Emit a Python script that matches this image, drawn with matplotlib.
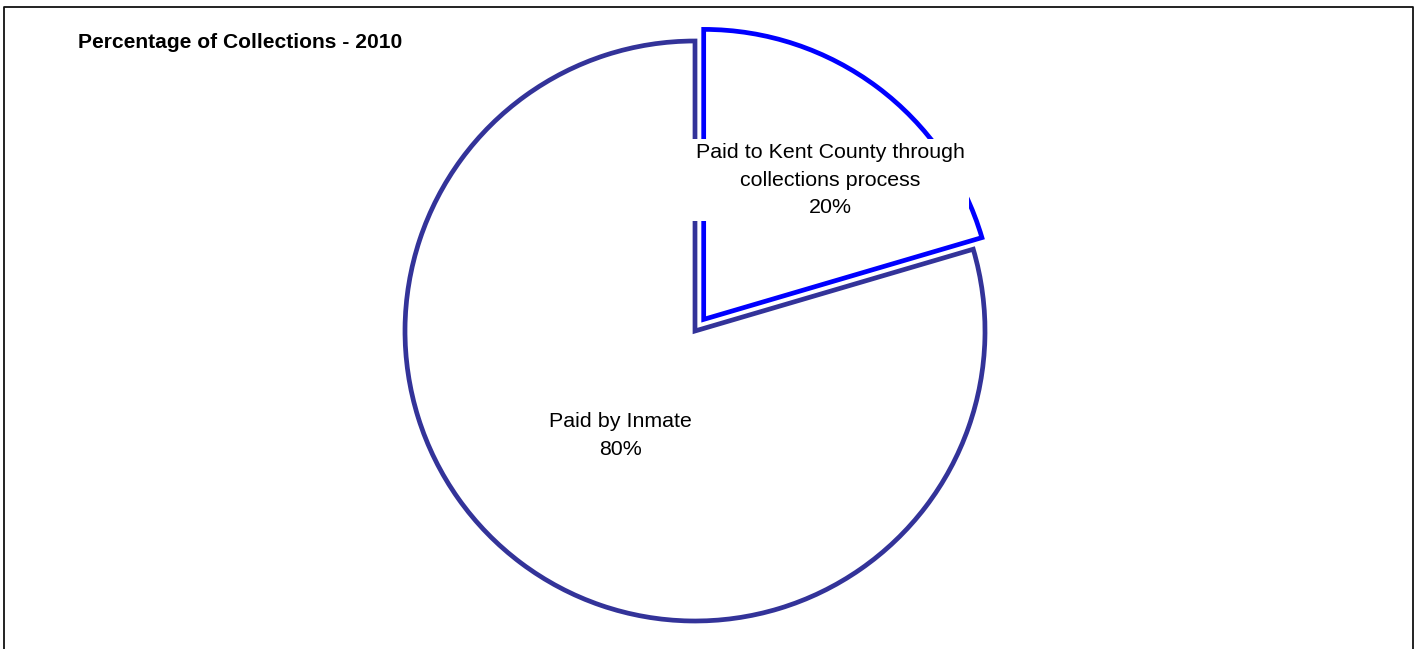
import matplotlib
matplotlib.use("Agg")
import matplotlib.pyplot as plt
from matplotlib.lines import Line2D
import numpy as np

plt.rcParams['font.family'] = ['Liberation Sans', 'DejaVu Sans']

title = "Percentage of Collections - 2010"
categories = ["Paid to Kent County through\ncollections process", "Paid by Inmate"]
values = [20.45, 79.55]
edge_colors = ["#0000FF", "#333399"]

W, H = 1417, 649
fig = plt.figure(figsize=(W / 100, H / 100), dpi=100)
ax = fig.add_axes([0, 0, 1, 1])

cx, cy, r = 695, H - 331, 290
wedges, _ = ax.pie(values, startangle=90, counterclock=False, center=(cx, cy), radius=r,
                   explode=[14.5, 0], colors=['white', 'white'],
                   wedgeprops=dict(linewidth=3.4, joinstyle='miter'), frame=True)
for w, ec in zip(wedges, edge_colors):
    w.set_edgecolor(ec)
wedges[0].set_zorder(3)
ax.set_xlim(0, W)
ax.set_ylim(0, H)
ax.set_aspect('equal')
ax.axis('off')

total = sum(values)
pcts = [f"{v / total * 100:.0f}%" for v in values]

# label positions (offsets from pie center, in radius units)
label_pos = [(0.467, 0.52), (-0.258, -0.36)]
for i, (cat, pct) in enumerate(zip(categories, pcts)):
    dx, dy = label_pos[i]
    kw = {}
    if i == 0:
        kw['bbox'] = dict(boxstyle='square,pad=0.2', facecolor='white', edgecolor='none')
    ax.text(cx + dx * r, cy + dy * r, f"{cat}\n{pct}", ha='center', va='center',
            fontsize=15.4, linespacing=1.56, color='black', zorder=5, **kw)

fig.text(78 / W, 1 - 42.5 / H, title, ha='left', va='center', fontsize=15.1,
         fontweight='bold', color='black')

# outer frame (left, top, right)
fx = lambda x: x / W
fy = lambda y: 1 - y / H
fig.add_artist(Line2D([fx(4), fx(4), fx(1413), fx(1413)], [0, fy(7), fy(7), 0],
                      transform=fig.transFigure, color='#111111', linewidth=1.3))

fig.savefig("out.png", dpi=100)
